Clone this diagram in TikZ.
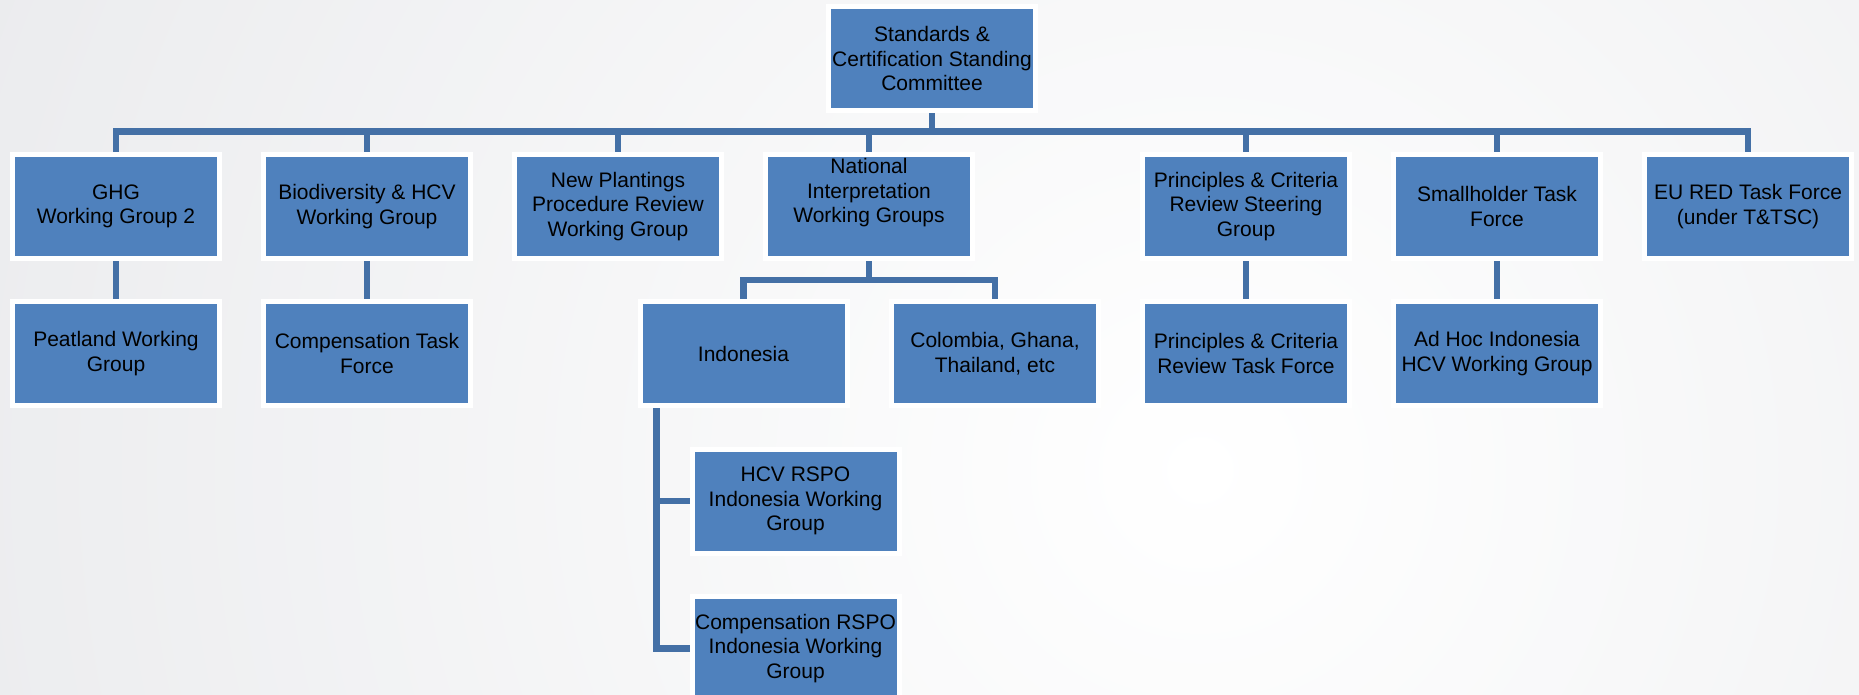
\documentclass[tikz,border=0pt]{standalone}
\usepackage{fontspec}
\setmainfont{Liberation Sans}
\definecolor{boxblue}{HTML}{4F81BD}
\definecolor{linkblue}{HTML}{4470A6}
\definecolor{bggrey}{HTML}{E5E6E9}
\pgfdeclarelayer{bg}
\pgfdeclarelayer{lines}
\pgfsetlayers{bg,lines,main}
\begin{document}
\begin{tikzpicture}[x=1pt,y=-1pt,
  orgbox/.style={rectangle, fill=boxblue, draw=white, line width=5pt,
    minimum width=207pt, minimum height=104pt, inner sep=0pt, align=center,
    text=black, font=\fontsize{21}{24.5}\selectfont},
  link/.style={draw=linkblue, line width=6.5pt, line join=miter}]
\useasboundingbox (0,0) rectangle (1859,695);
\begin{pgfonlayer}{bg}
\begin{scope}
\clip (0,0) rectangle (1859,695);
\fill[bggrey] (0,0) rectangle (1859,695);
\shade[inner color=white, outer color=bggrey] (1200,470) circle (1700);
\end{scope}
\end{pgfonlayer}

\node[orgbox] (std) at (932,58.5) {Standards \&\\Certification Standing\\Committee};

\node[orgbox] (ghg) at (116,206.5) {GHG\\Working Group 2};
\node[orgbox] (bio) at (367,206.5) {Biodiversity \& HCV\\Working Group};
\node[orgbox] (np) at (618,206.5) {New Plantings\\Procedure Review\\Working Group};
\node[orgbox] (nat) at (869,206.5) {National\\Interpretation\\Working Groups\\\strut};
\node[orgbox] (pc) at (1246,206.5) {Principles \& Criteria\\Review Steering\\Group};
\node[orgbox] (sh) at (1497,206.5) {Smallholder Task\\Force};
\node[orgbox] (eu) at (1748,206.5) {EU RED Task Force\\(under T\&TSC)};

\node[orgbox] (peat) at (116,353.5) {Peatland Working\\Group};
\node[orgbox] (comp) at (367,353.5) {Compensation Task\\Force};
\node[orgbox] (indo) at (743.5,353.5) {Indonesia};
\node[orgbox] (col) at (995,353.5) {Colombia, Ghana,\\Thailand, etc};
\node[orgbox] (pctf) at (1246,353.5) {Principles \& Criteria\\Review Task Force};
\node[orgbox] (adhoc) at (1497,353.5) {Ad Hoc Indonesia\\HCV Working Group};

\node[orgbox] (hcv) at (795.5,501) {HCV RSPO\\Indonesia Working\\Group};
\node[orgbox] (crspo) at (795.5,648.5) {Compensation RSPO\\Indonesia Working\\Group};

\coordinate (bar) at (932,131.5);
\coordinate (subbar) at (869,280);
\coordinate (idrop) at ([xshift=19pt]indo.south west);

\begin{pgfonlayer}{lines}
\path[link] (std.south) -- (std.south |- bar);
\path[link] (ghg.north) |- (eu.north |- bar) -- (eu.north);
\foreach \n in {bio,np,nat,pc,sh}{
  \path[link] (\n.north) -- (\n.north |- bar);
}
\path[link] (ghg.south) -- (peat.north);
\path[link] (bio.south) -- (comp.north);
\path[link] (pc.south) -- (pctf.north);
\path[link] (sh.south) -- (adhoc.north);
\path[link] (nat.south) -- (subbar);
\path[link] (indo.north) |- (subbar) -| (col.north);
\path[link] (idrop) |- (hcv.west);
\path[link] (idrop) |- (crspo.west);
\end{pgfonlayer}
\end{tikzpicture}
\end{document}
